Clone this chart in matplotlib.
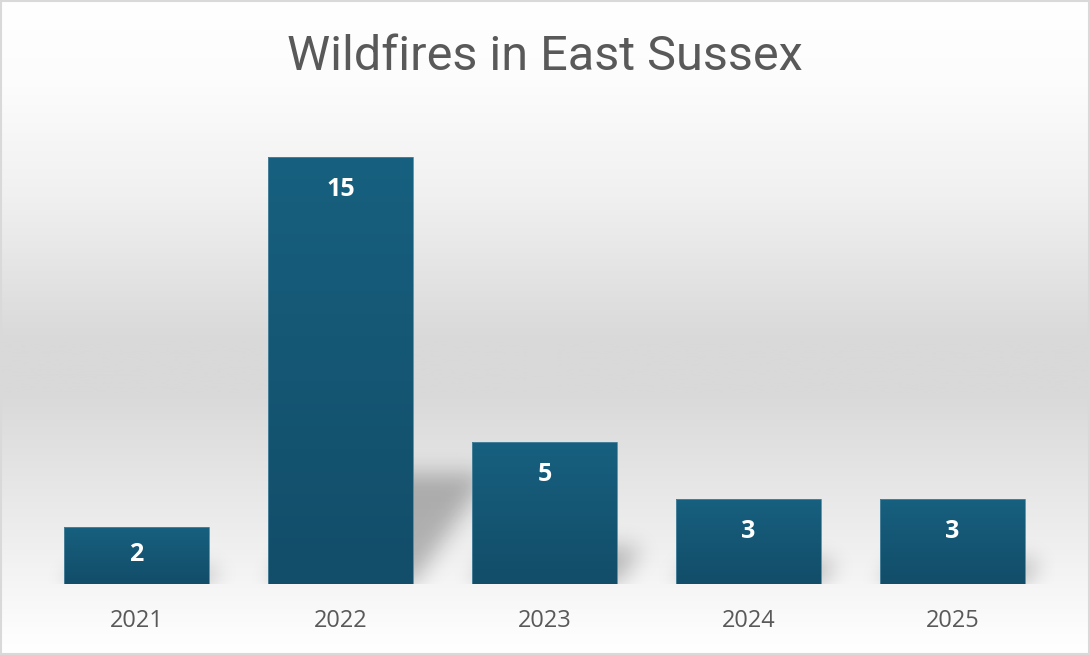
"""
Wildfires in East Sussex - bar chart with Excel-style gradient fills
"""
import numpy as np
import matplotlib.pyplot as plt
from matplotlib.colors import LinearSegmentedColormap
from matplotlib.patches import Rectangle

years = ['2021', '2022', '2023', '2024', '2025']
fires = [2, 15, 5, 3, 3]

plt.rcParams['font.family'] = ['Open Sans', 'DejaVu Sans']

fig = plt.figure(figsize=(10.9, 6.55), dpi=100)

# background gradient (white -> grey -> white)
bg = fig.add_axes([0, 0, 1, 1], zorder=0)
bg_cmap = LinearSegmentedColormap.from_list('bg', [
    (0.0, '#ffffff'), (0.13, '#fcfcfc'), (0.30, '#f0f0f0'), (0.52, '#d9d9d9'),
    (0.60, '#d9d9d9'), (0.80, '#ececec'), (0.97, '#fdfdfd'), (1.0, '#ffffff')])
grad = np.linspace(0, 1, 512).reshape(-1, 1)
bg.imshow(grad, cmap=bg_cmap, aspect='auto', extent=(0, 1, 0, 1), origin='upper')
bg.add_patch(Rectangle((0.001, 0.0015), 0.998, 0.997, fill=False,
                       edgecolor='#d9d9d9', linewidth=1.5, transform=bg.transAxes))
bg.set_xlim(0, 1)
bg.set_ylim(0, 1)
bg.axis('off')

W, H = 1090, 655
ax = fig.add_axes([34.5 / W, 71 / H, 1020 / W, 456 / H], zorder=1)
ax.set_facecolor('none')
ax.set_xlim(-0.5, 4.5)
ax.set_ylim(0, 16)

x = np.arange(len(years))
width = 0.71

# soft perspective shadows behind the bars
nx, ny = 1020, 456
gx = np.linspace(-0.5, 4.5, nx)
gy = np.linspace(0, 16, ny)
GX, GY = np.meshgrid(gx, gy)
mask = np.zeros_like(GX)
for xi, h in zip(x, fires):
    sh = 0.26 * h
    shift = 0.095 * GY
    inside = (GY <= sh) & (GX >= xi - width / 2 + shift) & (GX <= xi + width / 2 + shift)
    mask[inside] = 1.0
k = np.exp(-0.5 * (np.arange(-36, 37) / 11.0) ** 2)
k /= k.sum()
mask = np.apply_along_axis(lambda r: np.convolve(r, k, mode='same'), 1, mask)
mask = np.apply_along_axis(lambda c: np.convolve(c, k, mode='same'), 0, mask)
shadow = np.zeros((ny, nx, 4))
shadow[..., 3] = mask * 0.26
ax.imshow(shadow, extent=(-0.5, 4.5, 0, 16), origin='lower', aspect='auto', zorder=1)

# bars with vertical gradient fill
bars = ax.bar(x, fires, width=width, color='none', edgecolor='#4f87a1', linewidth=0.6, zorder=3)
bar_cmap = LinearSegmentedColormap.from_list('bar', ['#124d69', '#17607f'])
for b in bars:
    x0, h = b.get_x(), b.get_height()
    im = ax.imshow(np.linspace(0, 1, 256).reshape(-1, 1), cmap=bar_cmap, origin='lower',
                   extent=(x0, x0 + b.get_width(), 0, h), aspect='auto', zorder=2)
    im.set_clip_path(b)

for xi, h in zip(x, fires):
    off = min(33, h * 28.5 / 2 - 1) * 72 / 100
    ax.annotate(str(h), (xi, h), xytext=(0, -off), textcoords='offset points',
                ha='center', va='center', color='white', fontsize=18,
                fontweight='bold', zorder=4)

ax.set_xticks(x, years)
ax.tick_params(axis='x', length=0, pad=18, labelsize=17, labelcolor='#595959')
ax.set_yticks([])
for s in ax.spines.values():
    s.set_visible(False)

fig.text(0.5, 1 - 57 / H, 'Wildfires in East Sussex', ha='center', va='center',
         fontsize=35, color='#595959', family=['Roboto', 'DejaVu Sans'])

fig.savefig('out.png', dpi=100)
